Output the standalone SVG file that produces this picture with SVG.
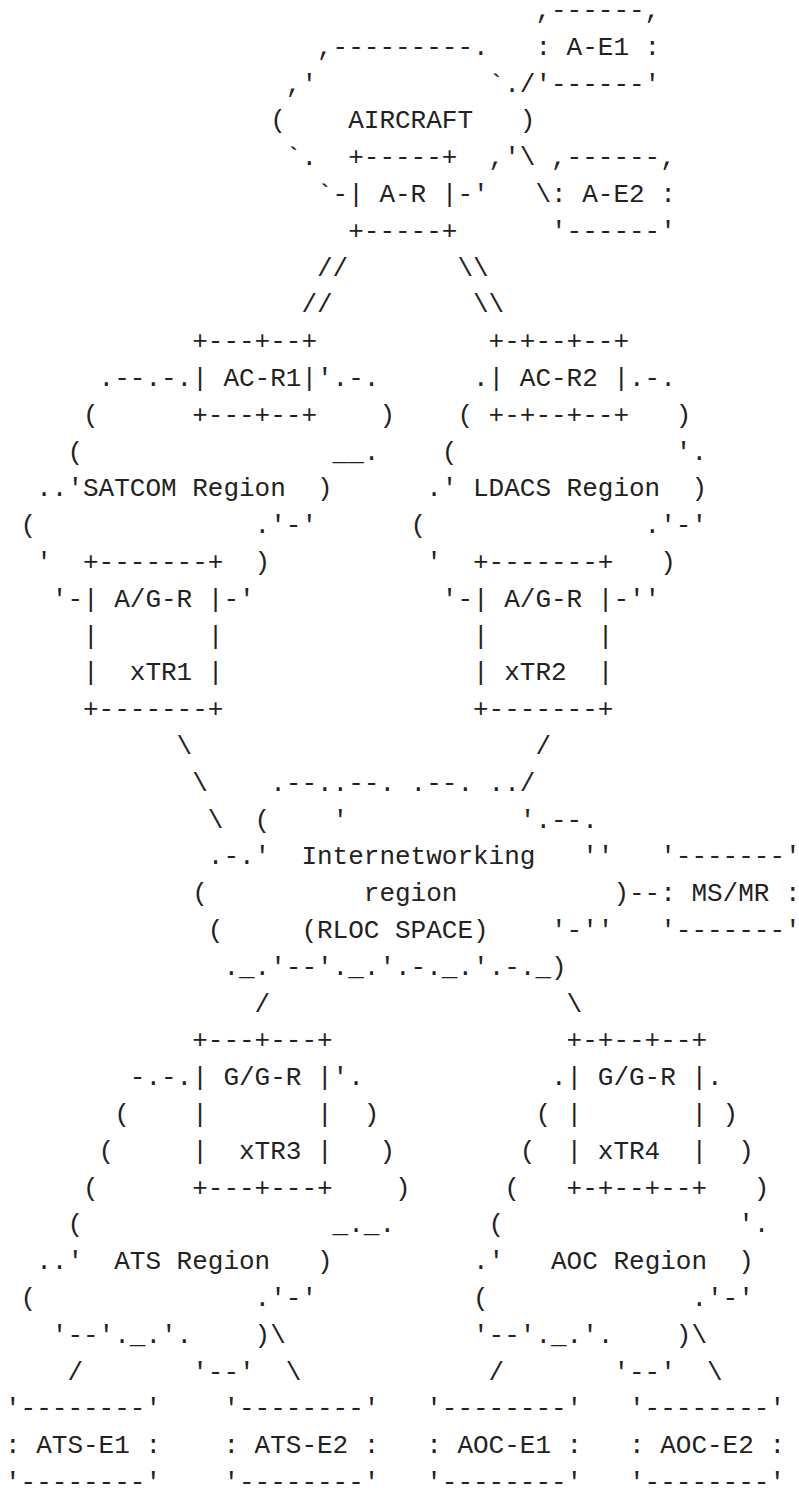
<svg xmlns="http://www.w3.org/2000/svg" width="799" height="1488" viewBox="0 0 799 1488" xml:space="preserve">
<style>
text { font-family: "Liberation Mono", "DejaVu Sans Mono", monospace; font-size: 26px; fill: #222222; white-space: pre; }
</style>
<rect x="0" y="0" width="799" height="1488" fill="#ffffff"/>
<g id="a-e1">
<text x="535.4" y="18">,------,</text>
<text x="535.4" y="54.8">: A-E1 :</text>
<text x="535.4" y="91.6">'------'</text>
</g>
<g id="aircraft">
<text x="317" y="54.8">,---------.</text>
<text x="285.8" y="91.6">,'</text>
<text x="488.6" y="91.6">`.</text>
<text x="270.2" y="128.4">(</text>
<text x="348.2" y="128.4">AIRCRAFT</text>
<text x="519.8" y="128.4">)</text>
<text x="285.8" y="165.2">`.</text>
<text x="488.6" y="165.2">,'</text>
<text x="317" y="202">`-</text>
<text x="457.4" y="202">-'</text>
</g>
<g id="a-r">
<text x="348.2" y="165.2">+-----+</text>
<text x="348.2" y="202">| A-R |</text>
<text x="348.2" y="238.8">+-----+</text>
</g>
<g id="a-e2">
<text x="551" y="165.2">,------,</text>
<text x="551" y="202">: A-E2 :</text>
<text x="551" y="238.8">'------'</text>
</g>
<g id="satcom-region">
<text x="98.6" y="386">.--.-.</text>
<text x="317" y="386">'.-.</text>
<text x="83" y="422.8">(</text>
<text x="379.4" y="422.8">)</text>
<text x="67.4" y="459.6">(</text>
<text x="332.6" y="459.6">__.</text>
<text x="36.2" y="496.4">..'SATCOM Region  )</text>
<text x="20.6" y="533.2">(</text>
<text x="254.6" y="533.2">.'-'</text>
<text x="36.2" y="570">'</text>
<text x="254.6" y="570">)</text>
<text x="51.8" y="606.8">'-</text>
<text x="223.4" y="606.8">-'</text>
</g>
<g id="ac-r1">
<text x="192.2" y="349.2">+---+--+</text>
<text x="192.2" y="386">| AC-R1|</text>
<text x="192.2" y="422.8">+---+--+</text>
</g>
<g id="xtr1">
<text x="83" y="570">+-------+</text>
<text x="83" y="606.8">| A/G-R |</text>
<text x="83" y="643.6">|       |</text>
<text x="83" y="680.4">|  xTR1 |</text>
<text x="83" y="717.2">+-------+</text>
</g>
<g id="ldacs-region">
<text x="473" y="386">.</text>
<text x="629" y="386">.-.</text>
<text x="457.4" y="422.8">(</text>
<text x="675.8" y="422.8">)</text>
<text x="441.8" y="459.6">(</text>
<text x="675.8" y="459.6">'.</text>
<text x="426.2" y="496.4">.' LDACS Region  )</text>
<text x="410.6" y="533.2">(</text>
<text x="644.6" y="533.2">.'-'</text>
<text x="426.2" y="570">'</text>
<text x="660.2" y="570">)</text>
<text x="441.8" y="606.8">'-</text>
<text x="613.4" y="606.8">-''</text>
</g>
<g id="ac-r2">
<text x="488.6" y="349.2">+-+--+--+</text>
<text x="488.6" y="386">| AC-R2 |</text>
<text x="488.6" y="422.8">+-+--+--+</text>
</g>
<g id="xtr2">
<text x="473" y="570">+-------+</text>
<text x="473" y="606.8">| A/G-R |</text>
<text x="473" y="643.6">|       |</text>
<text x="473" y="680.4">| xTR2  |</text>
<text x="473" y="717.2">+-------+</text>
</g>
<g id="internetworking-region">
<text x="270.2" y="790.8">.--..--. .--. ..</text>
<text x="254.6" y="827.6">(</text>
<text x="332.6" y="827.6">'</text>
<text x="519.8" y="827.6">'.--.</text>
<text x="207.8" y="864.4">.-.'</text>
<text x="301.4" y="864.4">Internetworking</text>
<text x="582.2" y="864.4">''</text>
<text x="192.2" y="901.2">(</text>
<text x="363.8" y="901.2">region</text>
<text x="613.4" y="901.2">)</text>
<text x="207.8" y="938">(</text>
<text x="301.4" y="938">(RLOC SPACE)</text>
<text x="551" y="938">'-''</text>
<text x="223.4" y="974.8">._.'--'._.'.-._.'.-._)</text>
</g>
<g id="ms-mr">
<text x="660.2" y="864.4">'-------'</text>
<text x="660.2" y="901.2">: MS/MR :</text>
<text x="660.2" y="938">'-------'</text>
</g>
<g id="ats-region">
<text x="129.8" y="1085.2">-.-.</text>
<text x="332.6" y="1085.2">'.</text>
<text x="114.2" y="1122">(</text>
<text x="363.8" y="1122">)</text>
<text x="98.6" y="1158.8">(</text>
<text x="379.4" y="1158.8">)</text>
<text x="83" y="1195.6">(</text>
<text x="395" y="1195.6">)</text>
<text x="67.4" y="1232.4">(</text>
<text x="332.6" y="1232.4">_._.</text>
<text x="36.2" y="1269.2">..'  ATS Region   )</text>
<text x="20.6" y="1306">(</text>
<text x="254.6" y="1306">.'-'</text>
<text x="51.8" y="1342.8">'--'._.'.</text>
<text x="254.6" y="1342.8">)</text>
<text x="192.2" y="1379.6">'--'</text>
</g>
<g id="xtr3">
<text x="192.2" y="1048.4">+---+---+</text>
<text x="192.2" y="1085.2">| G/G-R |</text>
<text x="192.2" y="1122">|       |</text>
<text x="192.2" y="1158.8">|  xTR3 |</text>
<text x="192.2" y="1195.6">+---+---+</text>
</g>
<g id="aoc-region">
<text x="551" y="1085.2">.</text>
<text x="707" y="1085.2">.</text>
<text x="535.4" y="1122">(</text>
<text x="722.6" y="1122">)</text>
<text x="519.8" y="1158.8">(</text>
<text x="738.2" y="1158.8">)</text>
<text x="504.2" y="1195.6">(</text>
<text x="753.8" y="1195.6">)</text>
<text x="488.6" y="1232.4">(</text>
<text x="738.2" y="1232.4">'.</text>
<text x="473" y="1269.2">.'   AOC Region  )</text>
<text x="473" y="1306">(</text>
<text x="691.4" y="1306">.'-'</text>
<text x="473" y="1342.8">'--'._.'.</text>
<text x="675.8" y="1342.8">)</text>
<text x="613.4" y="1379.6">'--'</text>
</g>
<g id="xtr4">
<text x="566.6" y="1048.4">+-+--+--+</text>
<text x="566.6" y="1085.2">| G/G-R |</text>
<text x="566.6" y="1122">|       |</text>
<text x="566.6" y="1158.8">| xTR4  |</text>
<text x="566.6" y="1195.6">+-+--+--+</text>
</g>
<g id="ats-e1">
<text x="5" y="1416.4">'--------'</text>
<text x="5" y="1453.2">: ATS-E1 :</text>
<text x="5" y="1490">'--------'</text>
</g>
<g id="ats-e2">
<text x="223.4" y="1416.4">'--------'</text>
<text x="223.4" y="1453.2">: ATS-E2 :</text>
<text x="223.4" y="1490">'--------'</text>
</g>
<g id="aoc-e1">
<text x="426.2" y="1416.4">'--------'</text>
<text x="426.2" y="1453.2">: AOC-E1 :</text>
<text x="426.2" y="1490">'--------'</text>
</g>
<g id="aoc-e2">
<text x="629" y="1416.4">'--------'</text>
<text x="629" y="1453.2">: AOC-E2 :</text>
<text x="629" y="1490">'--------'</text>
</g>
<g id="connectors">
<text x="519.8" y="91.6">/</text>
<text x="519.8" y="165.2">\</text>
<text x="535.4" y="202">\</text>
<text x="317" y="275.6">//</text>
<text x="457.4" y="275.6">\\</text>
<text x="301.4" y="312.4">//</text>
<text x="473" y="312.4">\\</text>
<text x="176.6" y="754">\</text>
<text x="535.4" y="754">/</text>
<text x="192.2" y="790.8">\</text>
<text x="519.8" y="790.8">/</text>
<text x="207.8" y="827.6">\</text>
<text x="629" y="901.2">--</text>
<text x="254.6" y="1011.6">/</text>
<text x="566.6" y="1011.6">\</text>
<text x="270.2" y="1342.8">\</text>
<text x="67.4" y="1379.6">/</text>
<text x="285.8" y="1379.6">\</text>
<text x="691.4" y="1342.8">\</text>
<text x="488.6" y="1379.6">/</text>
<text x="707" y="1379.6">\</text>
</g>
</svg>
